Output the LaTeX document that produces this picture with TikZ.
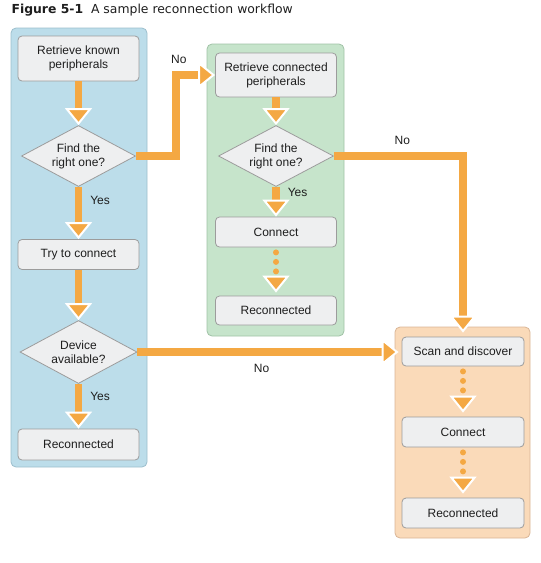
\documentclass[tikz,border=0pt]{standalone}
\usepackage{fontspec}
\setmainfont{Liberation Sans}
\newfontfamily\titlefont{DejaVu Sans}
\usetikzlibrary{arrows.meta,shapes.geometric}
\definecolor{PanelBlue}{HTML}{BCDDEA}
\definecolor{LineBlue}{HTML}{9CBECC}
\definecolor{PanelGreen}{HTML}{C6E4CB}
\definecolor{LineGreen}{HTML}{A0C2A6}
\definecolor{PanelOrange}{HTML}{FADAB9}
\definecolor{LineOrange}{HTML}{D9B596}
\definecolor{BoxFill}{HTML}{EEEFF0}
\definecolor{BoxLine}{HTML}{9C9C9C}
\definecolor{FlowOrange}{HTML}{F4A843}
\definecolor{TextGray}{HTML}{1E1E1E}

\begin{document}
\begin{tikzpicture}[x=1pt,y=-1pt,
    font=\fontsize{12}{14}\selectfont,
    panel/.style={rounded corners=5pt, line width=0.8pt},
    flowbox/.style={draw=BoxLine, fill=BoxFill, rounded corners=4pt, line width=0.8pt,
        minimum width=121pt, align=center, inner sep=0pt, text=TextGray},
    decision/.style={diamond, draw=BoxLine, fill=BoxFill, line width=0.8pt, aspect=1.87,
        inner sep=0pt, minimum width=114pt, minimum height=61pt, align=center, text=TextGray},
    flow/.style={FlowOrange, line width=7.5pt,
        -{Triangle[width=27pt,length=17pt,fill=FlowOrange,color=white,line width'=2pt]}},
    dotflow/.style={flow, line width=6pt, line cap=round, dash pattern=on 0pt off 9.5pt},
    lbl/.style={text=TextGray, inner sep=1pt}]
    \useasboundingbox (0,0) rectangle (541,563);
    %%Title
    \node[anchor=west, text=TextGray, font=\titlefont\fontsize{12.4}{14}\selectfont] (title) at (8,10)
        {\textbf{Figure 5-1}\ \ A sample reconnection workflow};
    %%Panels
    \draw[panel, draw=LineBlue, fill=PanelBlue] (11,28) rectangle (147,467);
    \draw[panel, draw=LineGreen, fill=PanelGreen] (207,44) rectangle (344,336);
    \draw[panel, draw=LineOrange, fill=PanelOrange] (395,327) rectangle (530,538);
    %%Known peripherals
    \node[flowbox, minimum height=45pt] (known) at (78.5,58.5) {Retrieve known\\peripherals};
    \node[decision] (find1) at (78.5,156) {Find the\\right one?};
    \node[flowbox, minimum height=30pt] (try) at (78.5,254.5) {Try to connect};
    \node[decision, minimum width=117pt, minimum height=63pt] (avail) at (78.5,352) {Device\\available?};
    \node[flowbox, minimum height=31pt] (recon1) at (78.5,444.5) {Reconnected};
    %%Connected peripherals
    \node[flowbox, minimum height=44pt] (conn) at (276,75) {Retrieve connected\\peripherals};
    \node[decision, minimum width=115pt] (find2) at (276,156) {Find the\\right one?};
    \node[flowbox, minimum height=30pt] (conn2) at (276,232) {Connect};
    \node[flowbox, minimum height=29pt] (recon2) at (276,310.5) {Reconnected};
    %%Scan
    \node[flowbox, minimum width=122pt, minimum height=29pt] (scan) at (463,351.5) {Scan and discover};
    \node[flowbox, minimum width=122pt, minimum height=30pt] (conn3) at (463,432) {Connect};
    \node[flowbox, minimum width=122pt, minimum height=30pt] (recon3) at (463,513) {Reconnected};
    %%Arrows
    \draw[flow] (known) -- (find1);
    \draw[flow] (find1) -- node[lbl, pos=0.26, right=7pt] {Yes} (try);
    \draw[flow] (try) -- (avail);
    \draw[flow] (avail) -- node[lbl, pos=0.27, right=7pt] {Yes} (recon1);
    \draw[flow] (conn) -- (find2);
    \draw[flow] (find2) -- node[lbl, pos=0.18, right=7pt] {Yes} (conn2);
    \draw[flow] (find1.east) -- ++(40,0) |- node[lbl, pos=0.5, above=7pt, xshift=3pt] {No} (conn);
    \draw[flow, shorten >=4pt] (find2.east) -| node[lbl, pos=0.265, above=7pt] {No} (scan);
    \draw[flow, shorten >=3pt] (avail.east) -- node[lbl, pos=0.47, below=7pt] {No} (avail.east -| scan.west);
    %%Dotted steps
    \draw[dotflow, shorten <=5pt, shorten >=3pt] (conn2) -- (recon2);
    \draw[dotflow, shorten <=5pt, shorten >=4pt] (scan) -- (conn3);
    \draw[dotflow, shorten <=5pt, shorten >=4pt] (conn3) -- (recon3);
\end{tikzpicture}
\end{document}
